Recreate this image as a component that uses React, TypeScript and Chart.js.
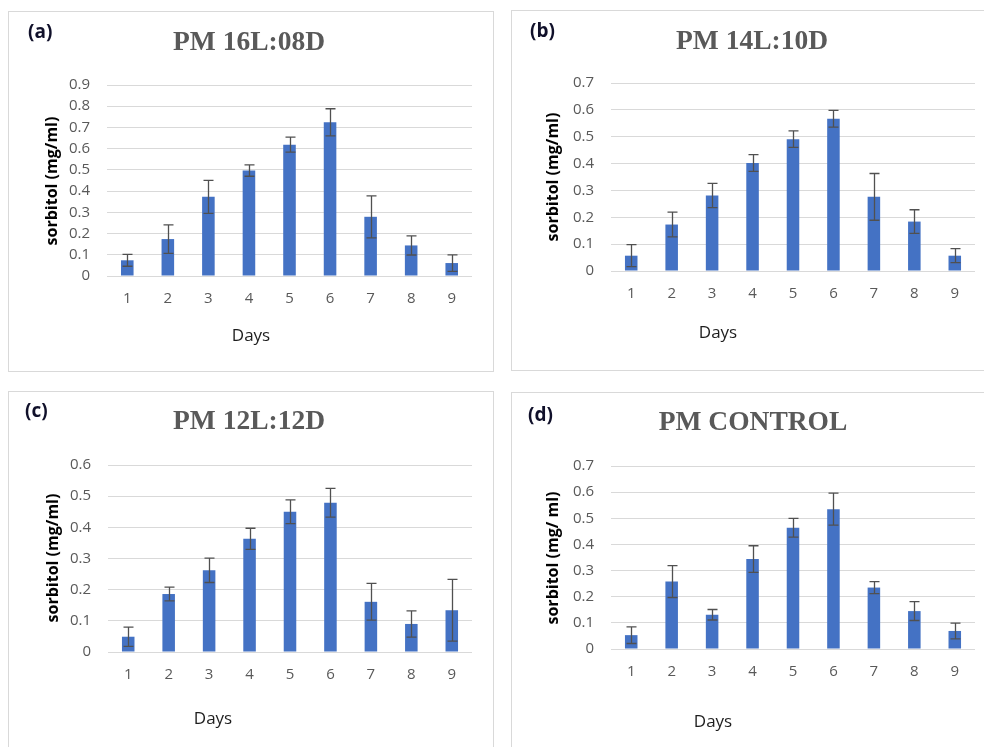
import React, { useEffect, useRef } from "react";
import { Chart, registerables } from "chart.js";

Chart.register(...registerables);

// ---------- data ----------
const days = ["1", "2", "3", "4", "5", "6", "7", "8", "9"];

const meanA = [0.074, 0.174, 0.373, 0.497, 0.619, 0.724, 0.279, 0.144, 0.061];
const errA = [0.028, 0.067, 0.078, 0.027, 0.035, 0.064, 0.099, 0.045, 0.039];

const meanB = [0.057, 0.173, 0.281, 0.402, 0.491, 0.567, 0.276, 0.184, 0.057];
const errB = [0.041, 0.046, 0.045, 0.031, 0.031, 0.031, 0.087, 0.044, 0.026];

const meanC = [0.049, 0.186, 0.262, 0.363, 0.45, 0.479, 0.161, 0.09, 0.134];
const errC = [0.031, 0.022, 0.039, 0.034, 0.038, 0.046, 0.059, 0.042, 0.099];

const meanD = [0.053, 0.258, 0.131, 0.344, 0.464, 0.535, 0.235, 0.145, 0.069];
const errD = [0.032, 0.061, 0.02, 0.051, 0.036, 0.061, 0.023, 0.036, 0.03];

const panelLabels = ["(a)", "(b)", "(c)", "(d)"];
const panelTitles = ["PM 16L:08D", "PM 14L:10D", "PM 12L:12D", "PM CONTROL"];
const yTitles = ["sorbitol (mg/ml)", "sorbitol (mg/ml)", "sorbitol (mg/ml)", "sorbitol (mg/ ml)"];
const xTitle = "Days";
const yMaxes = [0.9, 0.7, 0.6, 0.7];

// ---------- layout ----------
const W = 486;
const H = 361;

type Layout = {
  left: number; top: number;
  plotLeft: number; plotRight: number; plotTop: number; plotBottom: number;
  label: [number, number]; title: [number, number]; yTitle: [number, number]; days: [number, number];
};

const layouts: Layout[] = [
  { left: 8, top: 11, plotLeft: 99, plotRight: 464, plotTop: 74, plotBottom: 265,
    label: [20, 22], title: [241, 32], yTitle: [44, 170], days: [243, 325] },
  { left: 511, top: 10, plotLeft: 100, plotRight: 464, plotTop: 73, plotBottom: 261,
    label: [19, 22], title: [241, 32], yTitle: [42, 167], days: [207, 323] },
  { left: 8, top: 391, plotLeft: 100, plotRight: 464, plotTop: 74, plotBottom: 261,
    label: [17, 21], title: [241, 31], yTitle: [45, 167], days: [205, 328] },
  { left: 511, top: 392, plotLeft: 100, plotRight: 464, plotTop: 74, plotBottom: 257,
    label: [17, 24], title: [242, 31], yTitle: [42, 166], days: [202, 330] },
];

const BAR = "#4472C4";
const GRID = "#d9d9d9";
const TICK = "#595959";
const ERR = "#505050";

const errorBarPlugin = {
  id: "errorBars",
  afterDatasetsDraw(chart: any, _args: any, opts: any) {
    const ctx = chart.ctx;
    const meta = chart.getDatasetMeta(0);
    const y = chart.scales.y;
    const values = chart.data.datasets[0].data as number[];
    const errs: number[] = opts.errors || [];
    const cap = 5;
    ctx.save();
    ctx.strokeStyle = ERR;
    ctx.lineWidth = 1.3;
    meta.data.forEach((bar: any, i: number) => {
      const v = values[i];
      const e = errs[i] || 0;
      const x = Math.round(bar.x) + 0.5;
      const yt = y.getPixelForValue(v + e);
      const yb = y.getPixelForValue(Math.max(0, v - e));
      ctx.beginPath();
      ctx.moveTo(x, yt);
      ctx.lineTo(x, yb);
      ctx.moveTo(x - cap, yt);
      ctx.lineTo(x + cap, yt);
      ctx.moveTo(x - cap, yb);
      ctx.lineTo(x + cap, yb);
      ctx.stroke();
    });
    ctx.restore();
  },
};

const textPlugin = {
  id: "panelTexts",
  afterDraw(chart: any, _args: any, o: any) {
    const ctx = chart.ctx;
    ctx.save();
    // panel label
    ctx.fillStyle = "#10102a";
    ctx.font = "bold 19px 'Open Sans'";
    ctx.textAlign = "left";
    ctx.textBaseline = "middle";
    ctx.fillText(o.label, o.labelPos[0], o.labelPos[1]);
    // title
    ctx.fillStyle = "#595959";
    ctx.font = "bold 27.5px 'Liberation Serif'";
    ctx.textAlign = "center";
    ctx.fillText(o.title, o.titlePos[0], o.titlePos[1]);
    // x title
    ctx.fillStyle = "#1e1e1e";
    ctx.font = "17px 'Open Sans'";
    ctx.fillText(o.xTitle, o.daysPos[0], o.daysPos[1]);
    // y title
    ctx.translate(o.yTitlePos[0], o.yTitlePos[1]);
    ctx.rotate(-Math.PI / 2);
    ctx.fillStyle = "#000000";
    ctx.font = "bold 16px 'Open Sans'";
    ctx.fillText(o.yTitle, 0, 0);
    ctx.restore();
  },
};

function Panel({ idx, values, errors }: { idx: number; values: number[]; errors: number[] }) {
  const ref = useRef<HTMLCanvasElement>(null);
  const L = layouts[idx];
  useEffect(() => {
    if (!ref.current) return;
    const chart = new Chart(ref.current, {
      type: "bar",
      data: {
        labels: days,
        datasets: [
          {
            data: values,
            backgroundColor: BAR,
            borderWidth: 0,
            barPercentage: 1,
            categoryPercentage: 0.31,
          },
        ],
      },
      options: {
        animation: false,
        responsive: false,
        devicePixelRatio: 1,
        layout: {
          padding: { left: 0, top: L.plotTop, right: W - L.plotRight, bottom: 0 },
        },
        plugins: {
          legend: { display: false },
          tooltip: { enabled: false },
          title: { display: false },
          errorBars: { errors },
          panelTexts: {
            label: panelLabels[idx],
            title: panelTitles[idx],
            yTitle: yTitles[idx],
            xTitle,
            labelPos: L.label,
            titlePos: L.title,
            yTitlePos: L.yTitle,
            daysPos: L.days,
          },
        } as any,
        scales: {
          x: {
            grid: { display: false, drawTicks: false },
            border: { display: false },
            ticks: { color: TICK, font: { family: "Open Sans", size: 15 }, padding: 14 },
            afterFit: (s: any) => {
              s.height = H - L.plotBottom;
            },
          },
          y: {
            min: 0,
            max: yMaxes[idx],
            grid: { color: GRID, lineWidth: 1, drawTicks: false },
            border: { display: false },
            ticks: {
              stepSize: 0.1,
              color: TICK,
              font: { family: "Open Sans", size: 15 },
              padding: 17,
              callback: (v: any) => (Number(v) === 0 ? "0" : Number(v).toFixed(1)),
            },
            afterFit: (s: any) => {
              s.width = L.plotLeft;
            },
          },
        },
      },
      plugins: [errorBarPlugin, textPlugin],
    });
    return () => chart.destroy();
  }, []);
  return (
    <div
      style={{
        position: "absolute",
        left: L.left,
        top: L.top,
        width: W,
        height: H,
        border: "1px solid #d9d9d9",
        boxSizing: "border-box",
        background: "#ffffff",
      }}
    >
      <canvas
        ref={ref}
        width={W}
        height={H}
        style={{ position: "absolute", left: -1, top: -1, width: W, height: H }}
      />
    </div>
  );
}

export default function App() {
  return (
    <div
      style={{
        position: "fixed",
        left: 0,
        top: 0,
        width: 984,
        height: 747,
        overflow: "hidden",
        background: "#ffffff",
      }}
    >
      <Panel idx={0} values={meanA} errors={errA} />
      <Panel idx={1} values={meanB} errors={errB} />
      <Panel idx={2} values={meanC} errors={errC} />
      <Panel idx={3} values={meanD} errors={errD} />
    </div>
  );
}
